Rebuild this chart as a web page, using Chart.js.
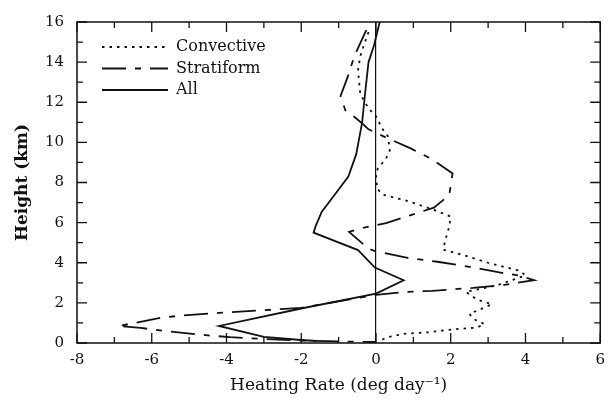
<!DOCTYPE html>
<html>
<head>
<meta charset="utf-8">
<script src="https://cdn.jsdelivr.net/npm/chart.js@4.4.1/dist/chart.umd.min.js"></script>
<style>
  html, body { margin: 0; padding: 0; background: #fff; }
  #wrap { width: 613px; height: 401px; }
</style>
</head>
<body>
<div id="wrap"><canvas id="heatingChart"></canvas></div>
<script>
// profiles, top to bottom (height in km, rate in deg/day)
const convHeight = [15.5, 14.75, 14.3, 13.6, 13.0, 12.4, 11.7, 11.3, 10.65, 10.3, 9.6, 9.2, 8.7, 8.4, 7.7, 7.4, 7.05, 6.6, 6.3, 5.8, 5.1, 4.65, 4.4, 4.0, 3.76, 3.6, 3.37, 2.85, 2.55, 2.17, 1.93, 1.69, 1.45, 1.2, 0.95, 0.77, 0.67, 0.53, 0.47, 0.29, 0.1];
const convRate = [-0.2, -0.34, -0.42, -0.48, -0.45, -0.42, -0.2, 0.0, 0.18, 0.32, 0.37, 0.27, 0.05, 0.0, 0.03, 0.18, 0.9, 1.6, 2.0, 1.96, 1.85, 1.8, 2.3, 3.0, 3.5, 3.85, 4.0, 3.2, 2.4, 2.7, 3.1, 2.8, 2.5, 2.6, 2.9, 2.7, 2.0, 1.4, 0.8, 0.3, 0.1];

const stratHeight = [15.6, 14.3, 13.3, 12.3, 11.6, 11.3, 10.9, 10.65, 10.36, 9.7, 9.2, 8.45, 7.37, 6.75, 5.97, 5.78, 5.54, 4.7, 4.57, 4.24, 4.05, 3.8, 3.52, 3.37, 3.13, 2.9, 2.75, 2.6, 2.55, 2.4, 1.75, 1.5, 1.35, 1.25, 0.98, 0.85, 0.75, 0.57, 0.38, 0.29, 0.2, 0.12, 0.08, 0.05];
const stratRate = [-0.26, -0.58, -0.75, -0.95, -0.82, -0.6, -0.34, -0.2, 0.13, 0.93, 1.46, 2.05, 1.96, 1.55, 0.27, -0.26, -0.72, -0.2, 0.0, 0.85, 1.64, 2.5, 3.3, 3.8, 4.23, 3.44, 2.6, 1.5, 0.8, 0.0, -2.0, -4.2, -5.3, -5.77, -6.5, -6.9, -6.3, -5.5, -4.5, -3.9, -3.0, -2.0, -1.0, 0.0];

const allHeight = [16.0, 14.85, 14.0, 12.3, 11.0, 10.5, 9.4, 8.3, 7.4, 6.55, 5.8, 5.5, 4.63, 3.76, 3.13, 2.46, 1.72, 0.85, 0.3, 0.15, 0.1];
const allRate = [0.1, -0.05, -0.2, -0.3, -0.37, -0.42, -0.53, -0.74, -1.1, -1.45, -1.62, -1.67, -0.48, -0.03, 0.74, 0.0, -2.0, -4.2, -3.0, -2.0, -1.6];

const seriesNames = ["Convective", "Stratiform", "All"];
const xTickValues = [-8, -6, -4, -2, 0, 2, 4, 6];
const yTickValues = [0, 2, 4, 6, 8, 10, 12, 14, 16];

const ink = "#111";
const serif = "'DejaVu Serif', 'Liberation Serif', serif";

function toPoints(rates, heights) {
  return rates.map((r, i) => ({ x: r, y: heights[i] }));
}

function profile(label, rates, heights, dash) {
  return {
    label: label,
    data: toPoints(rates, heights),
    showLine: true,
    borderColor: ink,
    borderWidth: 1.8,
    borderDash: dash,
    pointRadius: 0,
    fill: false,
  };
}

// box round the plot with inward ticks on all four sides
const frameTicks = {
  id: "frameTicks",
  afterDraw(chart) {
    const { ctx, chartArea: a, scales } = chart;
    ctx.save();
    ctx.strokeStyle = ink;
    ctx.lineWidth = 1.5;
    ctx.setLineDash([]);
    ctx.strokeRect(a.left, a.top, a.right - a.left, a.bottom - a.top);
    ctx.lineWidth = 1.3;
    for (let v = scales.x.min; v <= scales.x.max; v++) {
      const px = scales.x.getPixelForValue(v);
      const len = v % 2 === 0 ? 10 : 6;
      ctx.beginPath();
      ctx.moveTo(px, a.bottom); ctx.lineTo(px, a.bottom - len);
      ctx.moveTo(px, a.top); ctx.lineTo(px, a.top + len);
      ctx.stroke();
    }
    for (let v = scales.y.min; v <= scales.y.max; v++) {
      const py = scales.y.getPixelForValue(v);
      const len = v % 2 === 0 ? 10 : 6;
      ctx.beginPath();
      ctx.moveTo(a.left, py); ctx.lineTo(a.left + len, py);
      ctx.moveTo(a.right, py); ctx.lineTo(a.right - len, py);
      ctx.stroke();
    }
    ctx.restore();
  },
};

// legend inside the plot, top left, with the datasets' own dash patterns
const innerLegend = {
  id: "innerLegend",
  afterDraw(chart) {
    const { ctx, chartArea: a } = chart;
    const rowY = [47, 68.5, 90];
    ctx.save();
    ctx.font = "16px " + serif;
    ctx.fillStyle = ink;
    ctx.textBaseline = "middle";
    chart.data.datasets.forEach((ds, i) => {
      const y = rowY[i];
      ctx.strokeStyle = ds.borderColor;
      ctx.lineWidth = ds.borderWidth;
      ctx.setLineDash(ds.borderDash || []);
      ctx.beginPath();
      ctx.moveTo(a.left + 25, y);
      ctx.lineTo(a.left + 91, y);
      ctx.stroke();
      ctx.fillText(ds.label, a.left + 99, y);
    });
    ctx.restore();
  },
};

const ctx = document.getElementById("heatingChart").getContext("2d");
new Chart(ctx, {
  type: "scatter",
  data: {
    datasets: [
      profile(seriesNames[0], convRate, convHeight, [2.5, 5]),
      profile(seriesNames[1], stratRate, stratHeight, [24, 9, 6, 9]),
      profile(seriesNames[2], allRate, allHeight, []),
    ],
  },
  options: {
    responsive: true,
    maintainAspectRatio: false,
    animation: false,
    layout: { padding: { left: 0, right: 7, top: 11, bottom: 0 } },
    plugins: {
      legend: { display: false },
      tooltip: { enabled: false },
    },
    scales: {
      x: {
        type: "linear",
        min: -8,
        max: 6,
        afterBuildTicks: (s) => { s.ticks = xTickValues.map((v) => ({ value: v })); },
        afterFit: (s) => { s.height = 58; },
        ticks: { color: ink, font: { family: serif, size: 15 }, padding: 8 },
        grid: {
          drawTicks: false,
          lineWidth: 1.2,
          color: (c) => (c.tick && c.tick.value === 0 ? ink : "rgba(0,0,0,0)"),
        },
        border: { display: false },
        title: {
          display: true,
          text: "Heating Rate (deg day\u207B\u00B9)",
          color: ink,
          font: { family: serif, size: 17 },
          padding: { top: 0, bottom: 5 },
        },
      },
      y: {
        type: "linear",
        min: 0,
        max: 16,
        afterBuildTicks: (s) => { s.ticks = yTickValues.map((v) => ({ value: v })); },
        afterFit: (s) => { s.width = 77; },
        ticks: { color: ink, font: { family: serif, size: 15 }, padding: 13 },
        grid: { display: false, drawTicks: false },
        border: { display: false },
        title: {
          display: true,
          text: "Height (km)",
          color: ink,
          font: { family: serif, size: 17, weight: "bold" },
          padding: { top: 12, bottom: 0 },
        },
      },
    },
  },
  plugins: [frameTicks, innerLegend],
});
</script>
</body>
</html>
